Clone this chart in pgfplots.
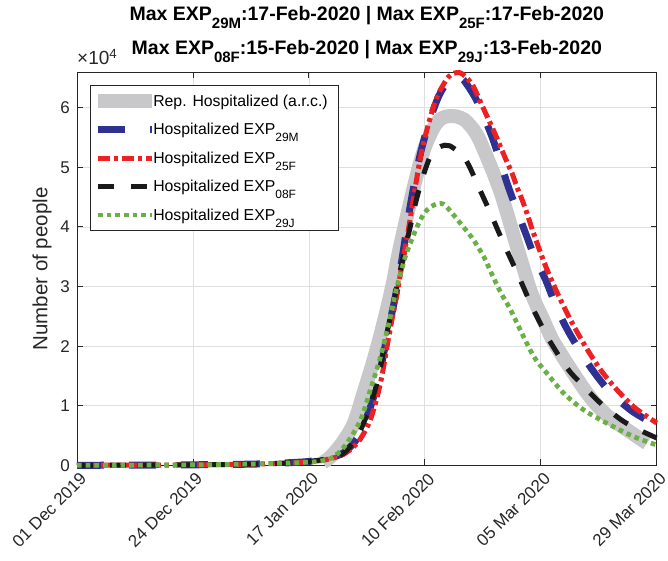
\documentclass[border=0pt]{standalone}
\usepackage{fontspec}
\setmainfont{Liberation Sans}
\usepackage{pgfplots}
\pgfplotsset{compat=1.18}
\definecolor{axgray}{RGB}{38,38,38}
\definecolor{gridgray}{RGB}{223,223,223}
\definecolor{repgray}{RGB}{200,200,202}
\definecolor{expblue}{RGB}{46,49,146}
\definecolor{expred}{RGB}{237,32,36}
\definecolor{expblack}{RGB}{26,26,26}
\definecolor{expgreen}{RGB}{106,176,70}
\newcommand\lsub[1]{\raisebox{-7pt}{\fontsize{12}{12}\selectfont #1}}
\newcommand\tsub[1]{\raisebox{-8pt}{\fontsize{15}{15}\selectfont\bfseries #1}}
\begin{document}
\begin{tikzpicture}
\useasboundingbox (-77pt,-95.7pt) rectangle (591pt,465.3pt);
\begin{axis}[
  at={(0pt,0pt)}, anchor=south west,
  scale only axis, width=579.7pt, height=392.8pt,
  xmin=0, xmax=119, ymin=0, ymax=65900,
  clip=false,
  xtick={0,23.8,47.6,71.4,95.2,119},
  xticklabels={01 Dec 2019,24 Dec 2019,17 Jan 2020,10 Feb 2020,05 Mar 2020,29 Mar 2020},
  ytick={0,10000,20000,30000,40000,50000,60000},
  yticklabels={0,1,2,3,4,5,6},
  scaled y ticks=false,
  /pgf/number format/assume math mode=true,
  tick align=inside, tick pos=both,
  major tick length=6pt,
  tick style={draw=axgray, line width=0.8pt},
  axis line style={draw=axgray, line width=0.8pt},
  xmajorgrids, ymajorgrids,
  grid style={draw=gridgray, line width=0.7pt},
  ticklabel style={font=\fontsize{17}{19}\selectfont, text=axgray},
  xticklabel style={rotate=45, anchor=north east, inner sep=0pt, yshift=-5.7pt, xshift=-2.8pt},
  yticklabel style={anchor=east, inner sep=0pt, xshift=-7pt},
  ylabel={Number of people},
  every axis y label/.style={at={(axis description cs:-0.0604,0.5)}, rotate=90, anchor=center, font=\fontsize{20.5}{23}\selectfont, text=axgray},
  title={Max EXP\tsub{29M}:17-Feb-2020 | Max EXP\tsub{25F}:17-Feb-2020\\Max EXP\tsub{08F}:15-Feb-2020 | Max EXP\tsub{29J}:13-Feb-2020},
  title style={at={(0.5,1)}, anchor=south, yshift=3.5pt, inner sep=0pt, align=center, font=\bfseries\fontsize{19.5}{34}\selectfont},
  legend style={at={(0,1)}, anchor=north west, xshift=13pt, yshift=-12.5pt, draw=axgray, line width=0.6pt, fill=white, text=black,
    font=\fontsize{15.8}{18}\selectfont, inner xsep=0.5pt, inner ysep=1.5pt, row sep=0pt, column sep=-6pt,
    nodes={inner xsep=0.5pt, inner ysep=2pt, text height=17.5pt, text depth=7pt}},
  legend cell align=left,
  legend image code/.code={\draw[#1] (-3pt,0pt) -- (51pt,0pt);},
]
\addplot[repgray, line width=14pt, line join=round, smooth] coordinates {
(50.5,500)(52.0,1400)(54.4,3700)(56.8,7000)(58.8,12100)(60.9,17700)(62.9,23800)(64.7,30000)(66.0,35500)(67.5,41000)(68.8,45500)(70.0,49500)(71.2,52900)(72.5,55500)(73.7,57300)(75.0,58300)(76.5,58600)(78.0,58500)(79.5,58000)(80.5,57200)(81.5,56200)(82.5,54800)(84.0,52000)(85.5,49000)(87.0,45700)(88.5,41700)(90.0,37500)(91.5,33500)(93.0,29500)(94.5,26500)(95.5,24800)(97.5,21200)(99.5,18500)(101.3,16200)(103.0,14100)(104.7,12100)(106.8,10000)(108.9,8300)(111.0,7000)(113.0,5900)(115.0,4800)(117.0,3700)
};
\addlegendentry{Rep. Hospitalized (a.r.c.)\hspace{10pt}\null}
\addplot[expblue, line width=7pt, dash pattern=on 27pt off 25pt, smooth] coordinates {
(0,0)(10,20)(20,60)(30,130)(36,200)(40,300)(44,450)(47,600)(50,900)(52,1300)(54.7,2100)(57.5,4500)(59.9,9000)(61.9,14500)(63.6,21500)(65.4,28500)(66.7,34500)(68.1,42000)(69.3,47500)(70.5,52300)(72.2,57400)(74.3,62000)(76.3,64600)(78.0,65200)(79.4,64600)(81.8,61600)(83.5,58500)(85.2,55100)(86.8,51200)(88.3,47300)(90.2,43000)(92.1,38900)(94.0,34800)(96.2,31100)(98.2,27000)(100.3,23300)(103.0,19500)(105.8,16000)(109.5,12200)(113.6,9300)(116.5,7800)(119,6600)
};
\addlegendentry{Hospitalized EXP\lsub{29M}}
\addplot[expred, line width=5pt, dash pattern=on 12pt off 4pt on 4pt off 4pt, smooth] coordinates {
(0,0)(10,20)(20,50)(30,120)(40,280)(44,400)(47,550)(50,800)(52,1100)(54,1600)(55.4,2200)(57.8,4000)(60.2,7600)(62.3,13800)(64.0,21600)(65.7,28900)(66.7,33500)(67.8,38400)(68.8,43400)(69.8,48400)(70.8,52900)(72.2,57400)(73.9,61800)(76.3,65200)(78.4,65900)(80.0,65000)(81.4,63500)(82.8,61000)(84.2,58500)(85.6,56000)(86.9,53500)(88.1,51200)(89.3,49000)(90.4,46500)(91.4,44500)(92.4,42200)(93.4,39700)(95.0,36000)(96.5,32800)(98.6,28900)(101.3,24400)(104.4,19900)(107.5,16000)(110.9,12600)(114.3,9800)(117.0,8200)(119,7100)
};
\addlegendentry{Hospitalized EXP\lsub{25F}}
\addplot[expblack, line width=5pt, dash pattern=on 16pt off 17pt, smooth] coordinates {
(0,0)(10,20)(20,60)(30,130)(40,300)(44,450)(47,600)(50,900)(52,1200)(54.7,2000)(57.5,4800)(59.9,9300)(61.9,14900)(63.6,22100)(65.4,28900)(66.7,34000)(68.4,40000)(69.5,44000)(70.8,47900)(72.5,51800)(74.0,53200)(75.5,53700)(76.5,53600)(78.0,52800)(79.4,51800)(80.8,49700)(82.1,47300)(83.5,44800)(84.9,42300)(86.2,39800)(87.6,37200)(89.0,34700)(90.4,32200)(91.9,29400)(93.4,26600)(95.0,24000)(96.5,21600)(98.2,19300)(99.9,17100)(101.6,15300)(103.4,13800)(105.5,12000)(107.5,10400)(110.0,8700)(112.3,7300)(115.5,5900)(118.4,4800)(119,4600)
};
\addlegendentry{Hospitalized EXP\lsub{08F}}
\addplot[expgreen, line width=4.7pt, dash pattern=on 4.7pt off 4pt, smooth] coordinates {
(0,0)(10,20)(20,60)(30,130)(40,300)(44,400)(47,500)(49.9,700)(52.7,1400)(55.4,3700)(58.2,7600)(60.2,12600)(62.3,18200)(64.0,23800)(65.7,30000)(67.4,35000)(68.4,37200)(69.8,40000)(71.2,42200)(72.5,43300)(74.0,43900)(75.3,43800)(76.8,42500)(78.7,40600)(80.0,39300)(81.4,37800)(83.5,35000)(85.2,32000)(86.9,29100)(89.0,26100)(91.0,22700)(93.8,18200)(96.5,15400)(99.9,12100)(104.0,9300)(108.9,7000)(114.3,4800)(119,3400)
};
\addlegendentry{Hospitalized EXP\lsub{29J}}
\node[anchor=base west, inner sep=0pt, yshift=7.5pt, font=\fontsize{19}{21}\selectfont, text=axgray] at (rel axis cs:0,1) {×10\textsuperscript{4}};
\end{axis}
\end{tikzpicture}
\end{document}
